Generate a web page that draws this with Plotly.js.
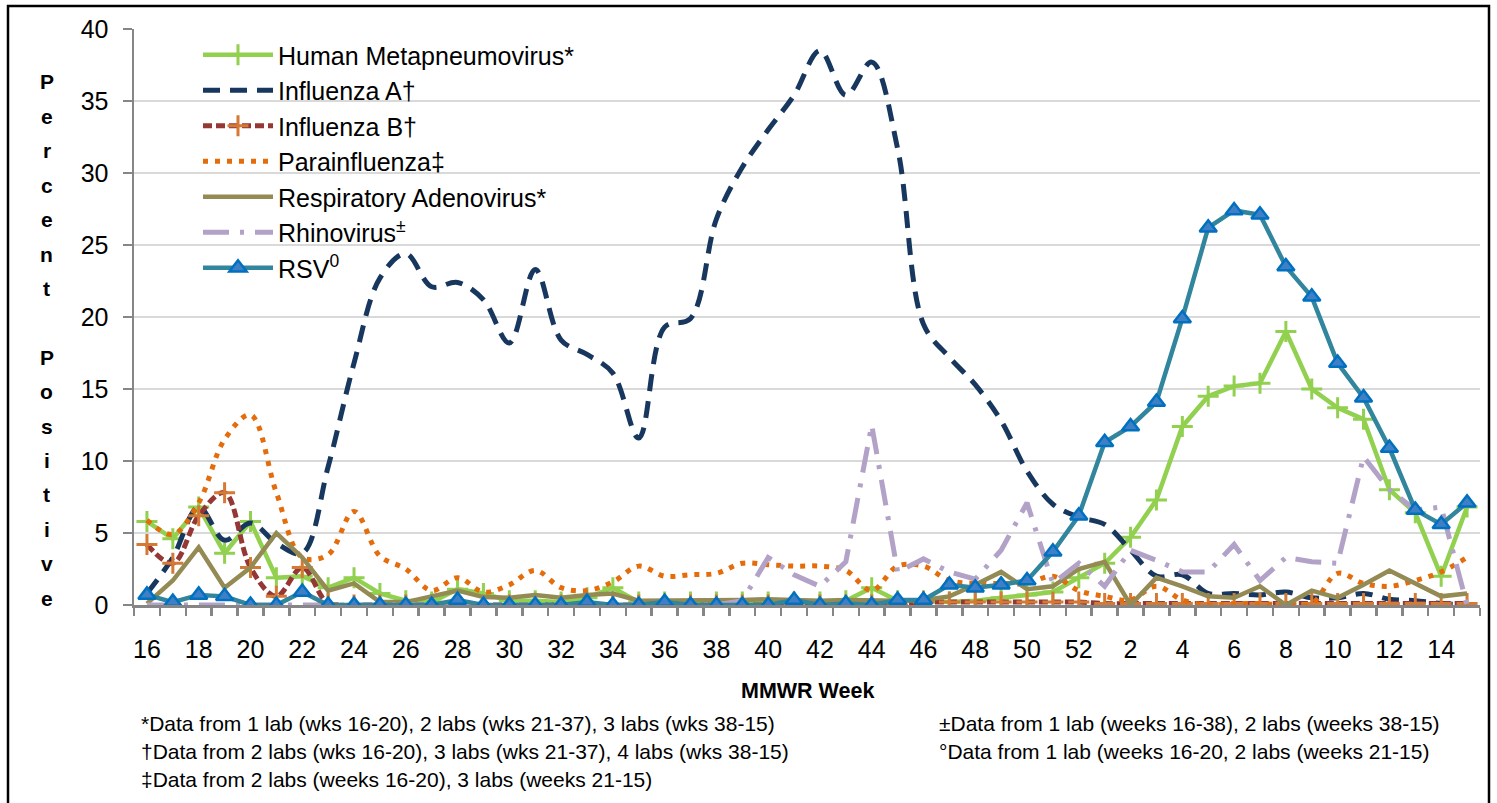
<!DOCTYPE html>
<html>
<head>
<meta charset="utf-8">
<script src="https://cdn.plot.ly/plotly-3.0.1.min.js"></script>
<style>
  html, body { margin: 0; padding: 0; background: #fff; }
  #chart { width: 1497px; height: 803px; }
</style>
</head>
<body>
<div id="chart"></div>
<script>
// MMWR weeks (categories)
const weeks = ['16','17','18','19','20','21','22','23','24','25','26','27','28','29','30','31','32','33','34','35','36','37','38','39','40','41','42','43','44','45','46','47','48','49','50','51','52','1','2','3','4','5','6','7','8','9','10','11','12','13','14','15'];
const shownWeeks = ['16','18','20','22','24','26','28','30','32','34','36','38','40','42','44','46','48','50','52','2','4','6','8','10','12','14'];

// Percent positive by series
const hmpv = [5.8,4.6,6.8,3.6,5.8,1.9,2.0,1.2,1.9,0.8,0.3,0.2,1.1,0.8,0.3,0.3,0.2,0.5,1.2,0.2,0.2,0.2,0.2,0.2,0.2,0.2,0.2,0.3,1.2,0.3,0.3,0.2,0.3,0.5,0.7,0.9,1.9,2.9,4.7,7.3,12.4,14.5,15.2,15.4,19.0,15.0,13.7,12.9,8.0,6.4,2.0,6.8];
const fluA = [0.8,3.3,6.8,4.5,5.7,4.3,3.6,9.6,16.8,22.7,24.4,22.1,22.4,21.2,18.2,23.3,18.4,17.4,16.1,11.6,19.3,19.9,26.8,30.4,33.0,35.4,38.5,35.4,37.7,31.7,19.5,17.2,15.3,12.8,9.3,7.0,6.1,5.6,3.8,2.0,2.1,0.8,0.8,0.7,0.9,0.5,0.5,0.8,0.4,0.3,0.1,0.0];
const fluB = [4.2,2.9,6.2,7.8,2.6,0.6,2.6,0.1,0,0,0,0,0,0,0,0,0,0,0,0,0,0,0,0,0,0,0,0,0,0,0.2,0.2,0.2,0.2,0.2,0.2,0.2,0.1,0.1,0.1,0.1,0.1,0.1,0.1,0.1,0.1,0.1,0.1,0.1,0.1,0.1,0.1];
const paraflu = [5.9,4.9,7.1,11.5,13.2,7.8,3.3,3.5,6.5,3.4,2.5,1.0,1.9,0.9,1.4,2.4,1.2,1.0,1.6,2.7,2.0,2.1,2.2,2.9,2.8,2.7,2.7,2.4,1.0,2.7,2.7,1.7,1.5,1.5,1.5,2.0,1.0,0.6,0.35,1.3,0.35,0,0.1,0.1,0,0.1,2.2,1.5,1.3,1.7,2.3,3.3];
const adeno = [0.1,1.7,4.0,1.2,2.6,5.0,3.3,1.0,1.5,0.2,0.2,0.6,1.0,0.55,0.5,0.7,0.5,0.7,0.8,0.3,0.3,0.3,0.35,0.35,0.4,0.35,0.3,0.35,0.3,0.3,0.35,0.6,1.4,2.3,1.1,1.3,2.5,3.0,0,1.9,1.3,0.6,0.5,1.3,0,1.0,0.5,1.4,2.4,1.5,0.6,0.8];
const rhino = [0,0,0,0,0,0,0,0,0,0,0,0,0,0,0,0,0,0,0,0,0,0,0,0.3,3.3,2.1,1.3,3.0,12.5,2.3,3.2,2.3,1.8,3.8,7.1,1.5,2.9,1.3,3.8,3.1,2.3,2.3,4.2,1.7,3.3,3.0,2.9,10.3,8.0,6.6,6.8,0];
const rsv = [0.7,0.2,0.7,0.6,0,0,0.9,0,0,0,0,0,0.35,0,0,0,0,0.2,0,0,0.2,0,0,0,0,0.35,0,0.1,0,0.35,0.35,1.4,1.2,1.4,1.7,3.7,6.2,11.3,12.4,14.1,19.9,26.2,27.4,27.1,23.5,21.4,16.8,14.4,10.9,6.6,5.6,7.1];

const seriesNames = ['Human Metapneumovirus*','Influenza A†','Influenza B†','Parainfluenza‡','Respiratory Adenovirus*','Rhinovirus<sup>±</sup>','RSV<sup>0</sup>'];

const footLeft = ['*Data from 1 lab (wks 16-20), 2 labs (wks 21-37), 3 labs (wks 38-15)',
                  '†Data from 2 labs (wks 16-20), 3 labs (wks 21-37), 4 labs (wks 38-15)',
                  '‡Data from 2 labs (weeks 16-20), 3 labs (weeks 21-15)'];
const footRight = ['±Data from 1 lab (weeks 16-38), 2 labs (weeks 38-15)',
                   '°Data from 1 lab (weeks 16-20, 2 labs (weeks 21-15)'];
const yTitle = 'Percent Positive';

const FONT = 'Arial, "Liberation Sans", sans-serif';

const traces = [
  {y: hmpv, name: seriesNames[0], mode: 'lines+markers',
   line: {color: '#92D050', width: 4.5},
   marker: {symbol: 'cross-thin', size: 15, line: {color: '#92D050', width: 3}}},
  {y: fluA, name: seriesNames[1], mode: 'lines',
   line: {color: '#17375E', width: 5, dash: '17px,10px', shape: 'spline', smoothing: 1}},
  {y: fluB, name: seriesNames[2], mode: 'lines+markers',
   line: {color: '#953735', width: 5, dash: '9px,4px', shape: 'spline', smoothing: 1},
   marker: {symbol: 'cross-thin', size: 15, line: {color: '#D47A34', width: 3}}},
  {y: paraflu, name: seriesNames[3], mode: 'lines',
   line: {color: '#E46C0A', width: 5, dash: '5px,7px', shape: 'spline', smoothing: 1}},
  {y: adeno, name: seriesNames[4], mode: 'lines',
   line: {color: '#948A54', width: 4.5}},
  {y: rhino, name: seriesNames[5], mode: 'lines',
   line: {color: '#B3A2C7', width: 5, dash: '26px,11px,4px,11px'}},
  {y: rsv, name: seriesNames[6], mode: 'lines+markers',
   line: {color: '#31859C', width: 4.5},
   marker: {symbol: 'triangle-up', size: 15, color: '#3F7FC6', line: {color: '#0070C0', width: 2.5}}}
].map(t => Object.assign({x: weeks, type: 'scatter', cliponaxis: true, hoverinfo: 'skip'}, t));

// pixel helpers for annotations (plot area: x 134..1480, y 29..605)
const L = 134, R = 17, T = 29, B = 198, W = 1497, H = 803;
const pw = W - L - R, ph = H - T - B;
const px = v => (v - L) / pw;
const py = v => (H - B - v) / ph;

const annotations = [];
// vertical stacked y title letters
let k = 0;
for (const ch of yTitle) {
  if (ch !== ' ') {
    annotations.push({xref: 'paper', yref: 'paper', x: px(47), y: py(82 + k * 34.4),
      text: '<b>' + ch + '</b>', showarrow: false, xanchor: 'center', yanchor: 'middle',
      font: {family: FONT, size: 21, color: '#000'}});
  }
  k++;
}
// x title
annotations.push({xref: 'paper', yref: 'paper', x: px(807), y: py(691), text: '<b>MMWR Week</b>',
  showarrow: false, xanchor: 'center', yanchor: 'middle', font: {family: FONT, size: 21.5, color: '#000'}});
footLeft.forEach((t, i) => annotations.push({xref: 'paper', yref: 'paper', x: px(139), y: py(723 + i * 28),
  text: t, showarrow: false, xanchor: 'left', yanchor: 'middle', font: {family: FONT, size: 21, color: '#000'}}));
footRight.forEach((t, i) => annotations.push({xref: 'paper', yref: 'paper', x: px(937), y: py(723 + i * 28),
  text: t, showarrow: false, xanchor: 'left', yanchor: 'middle', font: {family: FONT, size: 21, color: '#000'}}));

const layout = {
  width: W, height: H,
  margin: {l: L, r: R, t: T, b: B, pad: 0},
  paper_bgcolor: '#fff', plot_bgcolor: '#fff',
  showlegend: true,
  legend: {x: px(198), y: py(32), xanchor: 'left', yanchor: 'top', bgcolor: 'rgba(0,0,0,0)',
    font: {family: FONT, size: 25, color: '#000'}, itemwidth: 70, tracegroupgap: 0, traceorder: 'normal'},
  xaxis: {type: 'category', range: [-0.5, 51.5], tickmode: 'array', tickvals: weeks,
    ticktext: weeks.map(w => shownWeeks.includes(w) ? w : ''), tickangle: 0,
    tickson: 'boundaries', ticks: 'outside', ticklen: 8, tickwidth: 2.5, tickcolor: '#868686',
    showgrid: false, showline: true, linecolor: '#868686', linewidth: 2.5, zeroline: false,
    tickfont: {family: FONT, size: 25, color: '#000'}, ticklabelstandoff: 20, fixedrange: true},
  yaxis: {range: [0, 40], dtick: 5, tick0: 0, ticks: 'outside', ticklen: 9, tickwidth: 2.5, tickcolor: '#868686',
    showgrid: true, gridcolor: '#D9D9D9', gridwidth: 2.5, showline: true, linecolor: '#868686', linewidth: 2.5,
    zeroline: false, tickfont: {family: FONT, size: 25, color: '#000'}, ticklabelstandoff: 9, fixedrange: true},
  annotations: annotations,
  shapes: [{type: 'rect', xref: 'paper', yref: 'paper', x0: px(8), x1: px(1489), y0: py(830), y1: py(6),
    line: {color: '#000', width: 2.5}, fillcolor: 'rgba(0,0,0,0)', layer: 'above'}]
};

Plotly.newPlot('chart', traces, layout, {staticPlot: true, displayModeBar: false});
</script>
</body>
</html>
